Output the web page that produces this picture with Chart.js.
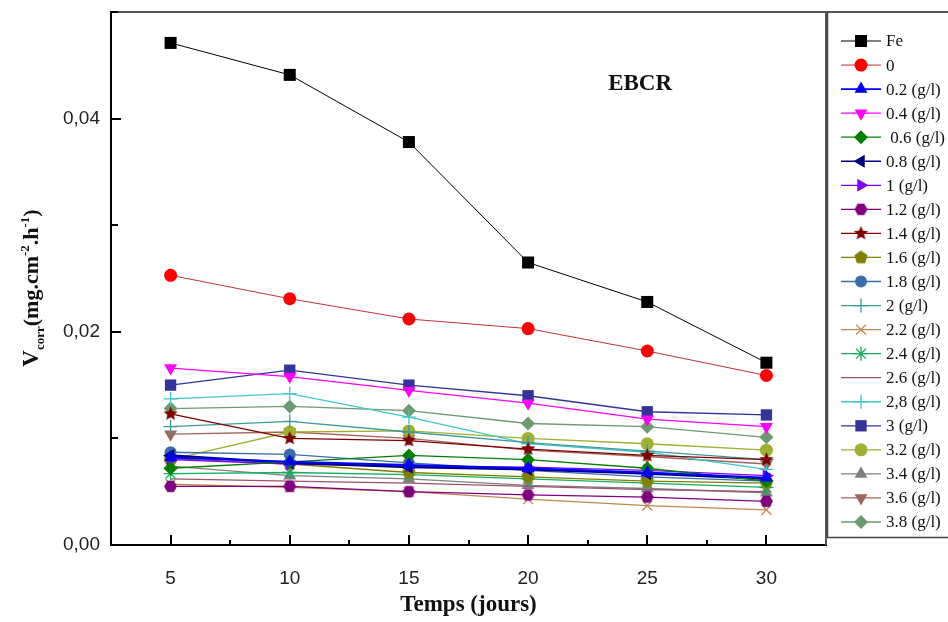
<!DOCTYPE html>
<html><head><meta charset="utf-8">
<script src="https://cdn.jsdelivr.net/npm/chart.js@4.4.1/dist/chart.umd.min.js"></script>
<style>html,body{margin:0;padding:0;background:#fff}#wrap{width:948px;height:622px;position:relative;background:#fff}</style>
</head><body><div id="wrap"><canvas id="c" width="948" height="622"></canvas></div>
<script>
// ---- data ----
const days = [5, 10, 15, 20, 25, 30];
const xTickLabels = [5, 10, 15, 20, 25, 30];
const xMinorTicks = [7.5, 12.5, 17.5, 22.5, 27.5];
const yTickLabels = [0, 0.02, 0.04];
const yMinorTicks = [0.01, 0.03, 0.05];
const seriesNames = ['Fe', '0', '0.2 (g/l)', '0.4 (g/l)', ' 0.6 (g/l)', '0.8 (g/l)', '1 (g/l)', '1.2 (g/l)', '1.4 (g/l)', '1.6 (g/l)', '1.8 (g/l)', '2 (g/l)', '2.2 (g/l)', '2.4 (g/l)', '2.6 (g/l)', '2,8 (g/l)', '3 (g/l)', '3.2 (g/l)', '3.4 (g/l)', '3.6 (g/l)', '3.8 (g/l)'];
const vFe   = [0.0471, 0.0441, 0.0378, 0.0265, 0.0228, 0.0171];
const v0    = [0.0253, 0.0231, 0.0212, 0.0203, 0.0182, 0.0159];
const v0_2  = [0.0082, 0.0078, 0.0075, 0.0072, 0.0068, 0.0063];
const v0_4  = [0.0166, 0.0158, 0.0145, 0.0133, 0.0118, 0.0111];
const v0_6  = [0.0072, 0.0078, 0.0084, 0.0080, 0.0072, 0.0060];
const v0_8  = [0.0084, 0.0077, 0.0073, 0.0071, 0.0067, 0.0062];
const v1    = [0.0080, 0.0076, 0.0074, 0.0073, 0.0070, 0.0065];
const v1_2  = [0.0055, 0.0055, 0.0050, 0.0047, 0.0045, 0.0041];
const v1_4  = [0.0123, 0.0100, 0.0098, 0.0090, 0.0084, 0.0080];
const v1_6  = [0.0081, 0.0076, 0.0068, 0.0064, 0.0060, 0.0058];
const v1_8  = [0.0087, 0.0085, 0.0077, 0.0070, 0.0064, 0.0060];
const v2    = [0.0111, 0.0116, 0.0106, 0.0096, 0.0088, 0.0080];
const v2_2  = [0.0057, 0.0054, 0.0050, 0.0043, 0.0037, 0.0033];
const v2_4  = [0.0067, 0.0068, 0.0066, 0.0062, 0.0058, 0.0054];
const v2_6  = [0.0062, 0.0060, 0.0058, 0.0055, 0.0052, 0.0050];
const v2_8  = [0.0137, 0.0142, 0.0120, 0.0095, 0.0087, 0.0071];
const v3    = [0.0150, 0.0164, 0.0150, 0.0140, 0.0125, 0.0122];
const v3_2  = [0.0080, 0.0106, 0.0107, 0.0100, 0.0095, 0.0089];
const v3_4  = [0.0074, 0.0065, 0.0062, 0.0056, 0.0053, 0.0049];
const v3_6  = [0.0104, 0.0106, 0.0100, 0.0089, 0.0083, 0.0076];
const v3_8  = [0.0128, 0.0130, 0.0126, 0.0114, 0.0111, 0.0101];
const seriesValues = [vFe, v0, v0_2, v0_4, v0_6, v0_8, v1, v1_2, v1_4, v1_6, v1_8, v2, v2_2, v2_4, v2_6, v2_8, v3, v3_2, v3_4, v3_6, v3_8];

// ---- styles ----
function shape(color, kind, r) {
  const c = document.createElement('canvas');
  const s = Math.ceil(2 * r + 2);
  c.width = s; c.height = s;
  const g = c.getContext('2d');
  g.fillStyle = color;
  g.beginPath();
  const cx = s / 2, cy = s / 2;
  if (kind === 'star') {
    for (let i = 0; i < 10; i++) {
      const rr = i % 2 === 0 ? r : r * 0.45;
      const a = -Math.PI / 2 + i * Math.PI / 5;
      const px = cx + rr * Math.cos(a), py = cy + rr * Math.sin(a);
      i === 0 ? g.moveTo(px, py) : g.lineTo(px, py);
    }
  } else {
    const n = kind === 'pent' ? 5 : 6;
    for (let i = 0; i < n; i++) {
      const a = (kind === 'pent' ? -Math.PI / 2 : 0) + i * 2 * Math.PI / n;
      const px = cx + r * Math.cos(a), py = cy + r * Math.sin(a);
      i === 0 ? g.moveTo(px, py) : g.lineTo(px, py);
    }
  }
  g.closePath();
  g.fill();
  return c;
}
const styles = [
  {c: '#000000', p: 'rect', r: 8.5, w: 1},
  {c: '#ff0000', p: 'circle', r: 6.5, w: 1, lc: '#c0303a'},
  {c: '#0000ff', p: 'triangle', r: 7.5, w: 2},
  {c: '#ff00ff', p: 'triangle', r: 7.5, rot: 180, w: 1.3},
  {c: '#008000', p: 'rectRot', r: 7, w: 1.3},
  {c: '#000080', p: 'triangle', r: 7.5, rot: -90, w: 2.2},
  {c: '#8000ff', p: 'triangle', r: 7.5, rot: 90, w: 1.3},
  {c: '#800080', p: shape('#800080', 'hex', 6.5), r: 6.5, w: 1.3},
  {c: '#800000', p: shape('#800000', 'star', 7.5), r: 7.5, w: 1.3},
  {c: '#808000', p: shape('#808000', 'pent', 7), r: 7, w: 1.3},
  {c: '#3a6ea8', p: 'circle', r: 6, w: 1.3},
  {c: '#3d9a9a', p: 'cross', r: 7, w: 1.3},
  {c: '#c08850', p: 'crossRot', r: 7, w: 1.3},
  {c: '#10b060', p: 'star', r: 7, w: 1.3},
  {c: '#a0506e', p: 'circle', r: 0, w: 1.3},
  {c: '#40c8c8', p: 'cross', r: 7, w: 1.3},
  {c: '#333399', p: 'rect', r: 8, w: 1.3},
  {c: '#a0b030', p: 'circle', r: 6.5, w: 1.3},
  {c: '#808080', p: 'triangle', r: 7.5, w: 1.3},
  {c: '#a0665a', p: 'triangle', r: 7.5, rot: 180, w: 1.3},
  {c: '#6b9b6e', p: 'rectRot', r: 7, w: 1.3}
];

const datasets = seriesNames.map((name, i) => {
  const s = styles[i];
  const isLineMark = s.p === 'cross' || s.p === 'crossRot' || s.p === 'star';
  return {
    label: name,
    data: days.map((d, j) => ({x: d, y: seriesValues[i][j]})),
    borderColor: s.lc || s.c,
    backgroundColor: s.c,
    borderWidth: s.w,
    pointStyle: s.p,
    pointRadius: s.r,
    pointRotation: s.rot || 0,
    pointBackgroundColor: s.c,
    pointBorderColor: s.c,
    pointBorderWidth: isLineMark ? 1.3 : 0,
    tension: 0,
    fill: false
  };
});

const fmt = v => v.toFixed(2).replace('.', ',');

const framePlugin = {
  id: 'frame',
  afterDatasetsDraw(chart) {
    const {ctx, chartArea: a, scales: {x, y}} = chart;
    ctx.save();
    // top & right frame
    ctx.strokeStyle = '#555';
    ctx.lineWidth = 2;
    ctx.beginPath();
    ctx.moveTo(a.left, a.top); ctx.lineTo(948, a.top);
    ctx.moveTo(a.right, a.top); ctx.lineTo(a.right, a.bottom);
    ctx.stroke();
    // inward ticks
    ctx.strokeStyle = '#000';
    ctx.lineWidth = 2;
    ctx.beginPath();
    xTickLabels.forEach(v => { const p = Math.round(x.getPixelForValue(v)); ctx.moveTo(p, a.bottom); ctx.lineTo(p, a.bottom - 10); });
    xMinorTicks.forEach(v => { const p = Math.round(x.getPixelForValue(v)); ctx.moveTo(p, a.bottom); ctx.lineTo(p, a.bottom - 5); });
    yTickLabels.forEach(v => { const p = Math.round(y.getPixelForValue(v)); ctx.moveTo(a.left, p); ctx.lineTo(a.left + 10, p); });
    yMinorTicks.forEach(v => { const p = Math.round(y.getPixelForValue(v)); ctx.moveTo(a.left, p); ctx.lineTo(a.left + 7, p); });
    ctx.stroke();
    // EBCR
    ctx.fillStyle = '#111';
    ctx.font = 'bold 23px "Liberation Serif"';
    ctx.textAlign = 'center';
    ctx.textBaseline = 'middle';
    ctx.fillText('EBCR', x.getPixelForValue(24.7), y.getPixelForValue(0.0432));
    // y title with sub/superscripts
    ctx.translate(30, 288);
    ctx.rotate(-Math.PI / 2);
    const parts = [
      {t: 'V', f: 'bold 23px "Liberation Serif"', dy: 0},
      {t: 'corr', f: 'bold 13px "Liberation Serif"', dy: 6},
      {t: '(mg.cm', f: 'bold 22px "Liberation Serif"', dy: 0},
      {t: '-2', f: 'bold 13px "Liberation Serif"', dy: -9},
      {t: '.h', f: 'bold 22px "Liberation Serif"', dy: 0},
      {t: '-1', f: 'bold 13px "Liberation Serif"', dy: -9},
      {t: ')', f: 'bold 22px "Liberation Serif"', dy: 0}
    ];
    let total = 0;
    parts.forEach(p => { ctx.font = p.f; p.w = ctx.measureText(p.t).width; total += p.w; });
    let cx = -total / 2;
    ctx.textAlign = 'left';
    ctx.textBaseline = 'alphabetic';
    parts.forEach(p => { ctx.font = p.f; ctx.fillText(p.t, cx, 8 + p.dy); cx += p.w; });
    ctx.restore();
  },
  afterDraw(chart) {
    const ctx = chart.ctx;
    ctx.save();
    ctx.fillStyle = '#fff';
    ctx.fillRect(828, 13, 120, 524);
    ctx.strokeStyle = '#444';
    ctx.lineWidth = 1.5;
    ctx.beginPath();
    ctx.moveTo(827.5, 12); ctx.lineTo(827.5, 537.5); ctx.lineTo(948, 537.5);
    ctx.stroke();
    ctx.font = '17px "Liberation Serif"';
    ctx.textAlign = 'left';
    ctx.textBaseline = 'middle';
    chart.data.datasets.forEach((ds, i) => {
      const yy = 41 + i * 24.05;
      ctx.strokeStyle = ds.borderColor;
      ctx.lineWidth = Math.min(ds.borderWidth, 1.6);
      ctx.beginPath(); ctx.moveTo(841, yy); ctx.lineTo(881, yy); ctx.stroke();
      if (ds.pointRadius > 0) {
        ctx.fillStyle = ds.pointBackgroundColor;
        ctx.strokeStyle = ds.pointBorderColor;
        Chart.helpers.drawPoint(ctx, {pointStyle: ds.pointStyle, radius: ds.pointRadius, rotation: ds.pointRotation, borderWidth: ds.pointBorderWidth || 0}, 861, yy);
      }
      ctx.fillStyle = '#111';
      ctx.fillText(ds.label, 886, yy + 1);
    });
    ctx.restore();
  }
};

new Chart(document.getElementById('c'), {
  type: 'line',
  data: {datasets},
  options: {
    responsive: false,
    animation: false,
    devicePixelRatio: 1,
    layout: {padding: {top: 12, right: 122, left: 0, bottom: 0}},
    plugins: {legend: {display: false}, tooltip: {enabled: false}},
    scales: {
      x: {
        type: 'linear', min: 2.5, max: 32.5,
        grid: {display: false, drawTicks: false},
        border: {display: true, color: '#000', width: 2},
        afterBuildTicks: s => { s.ticks = xTickLabels.map(v => ({value: v})); },
        afterFit: s => { s.height = 77; s.paddingLeft = 0; s.paddingRight = 0; },
        ticks: {padding: 22, color: '#222', font: {family: '"Liberation Sans"', size: 19}, callback: v => String(v)},
        title: {display: true, text: 'Temps (jours)', color: '#111', font: {family: '"Liberation Serif"', size: 23, weight: 'bold'}, padding: {top: 0, bottom: 3}}
      },
      y: {
        type: 'linear', min: 0, max: 0.05,
        grid: {display: false, drawTicks: false},
        border: {display: true, color: '#000', width: 2},
        afterBuildTicks: s => { s.ticks = yTickLabels.map(v => ({value: v})); },
        afterFit: s => { s.width = 111; s.paddingTop = 0; s.paddingBottom = 0; },
        ticks: {padding: 11, color: '#222', font: {family: '"Liberation Sans"', size: 19}, callback: v => fmt(v)}
      }
    }
  },
  plugins: [framePlugin]
});
</script></body></html>
